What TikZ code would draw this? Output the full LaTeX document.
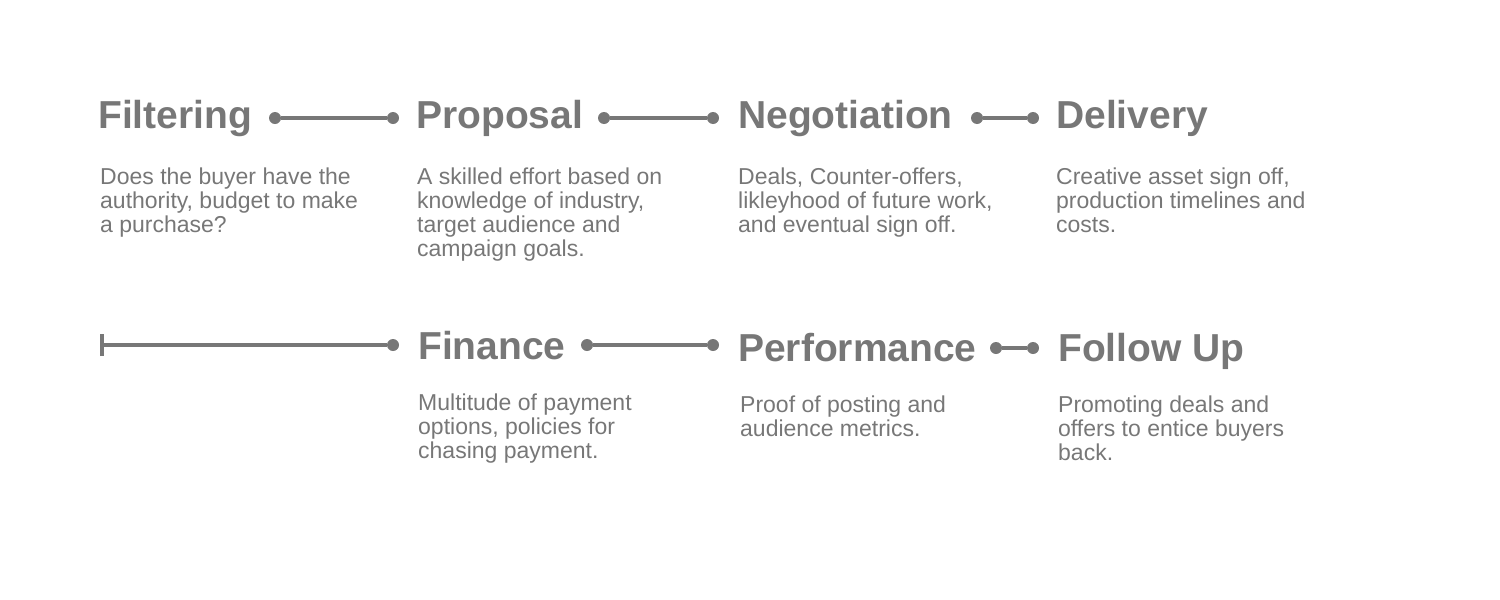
\documentclass[tikz,border=0pt]{standalone}
\usepackage{fontspec}
\setmainfont{Liberation Sans}
\definecolor{stepgray}{RGB}{119,119,119}

\begin{document}
\begin{tikzpicture}[x=1pt,y=-1pt,
	title/.style={anchor=base west, inner sep=0pt, text=stepgray, font=\fontsize{39}{40}\selectfont\bfseries},
	body/.style={anchor=base west, inner sep=0pt, align=left, text=stepgray, font=\fontsize{23}{24}\selectfont},
	dot/.style={circle, fill=stepgray, inner sep=0pt, minimum size=12pt},
	link/.style={draw=stepgray, line width=4pt}]
	\useasboundingbox (0,0) rectangle (1500,600);

	\node[title] (filtering) at (98,128) {Filtering};
	\node[title] (proposal) at (416,128) {Proposal};
	\node[title] (negotiation) at (738,128) {Negotiation};
	\node[title] (delivery) at (1056,128) {Delivery};
	\node[title] (finance) at (418,359) {Finance};
	\node[title] (performance) at (738,361) {Performance};
	\node[title] (followup) at (1058,361) {Follow Up};

	% base of a text block is its last line
	\node[body] (filteringtext) at (100,232) {Does the buyer have the\\authority, budget to make\\a purchase?};
	\node[body] (proposaltext) at (417,256) {A skilled effort based on\\knowledge of industry,\\target audience and\\campaign goals.};
	\node[body] (negotiationtext) at (738,232) {Deals, Counter-offers,\\likleyhood of future work,\\and eventual sign off.};
	\node[body] (deliverytext) at (1056,232) {Creative asset sign off,\\production timelines and\\costs.};
	\node[body] (financetext) at (418,458) {Multitude of payment\\options, policies for\\chasing payment.};
	\node[body] (performancetext) at (740,436) {Proof of posting and\\audience metrics.};
	\node[body] (followuptext) at (1058,460) {Promoting deals and\\offers to entice buyers\\back.};

	\node[dot] (d1a) at (275,118) {};
	\node[dot] (d1b) at (393,118) {};
	\node[dot] (d2a) at (604,118) {};
	\node[dot] (d2b) at (713,118) {};
	\node[dot] (d3a) at (977,118) {};
	\node[dot] (d3b) at (1033,118) {};
	\node[dot] (d4b) at (393,345) {};
	\node[dot] (d5a) at (587,345) {};
	\node[dot] (d5b) at (713,345) {};
	\node[dot] (d6a) at (996,348) {};
	\node[dot] (d6b) at (1033,348) {};
	\coordinate (start) at (102,345);

	\draw[link] (d1a) -- (d1b);
	\draw[link] (d2a) -- (d2b);
	\draw[link] (d3a) -- (d3b);
	\draw[link] (start) -- (d4b);
	\draw[link] ([yshift=-11pt]start) -- ([yshift=11pt]start);
	\draw[link] (d5a) -- (d5b);
	\draw[link] (d6a) -- (d6b);
\end{tikzpicture}
\end{document}
